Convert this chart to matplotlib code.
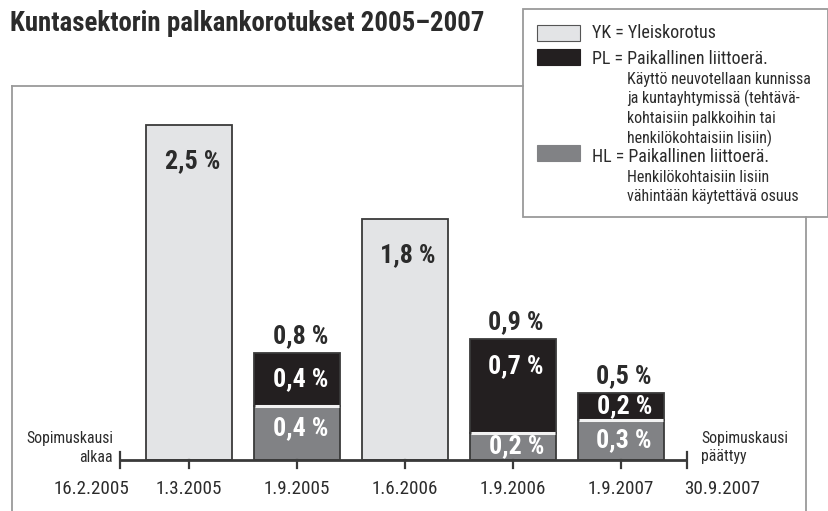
import matplotlib
matplotlib.use('Agg')
import matplotlib.pyplot as plt
from matplotlib import font_manager
from matplotlib.patches import Rectangle

# data
dates = ['16.2.2005', '1.3.2005', '1.9.2005', '1.6.2006', '1.9.2006', '1.9.2007', '30.9.2007']
yk = [2.5, 0, 1.8, 0, 0]
pl = [0, 0.4, 0, 0.7, 0.2]
hl = [0, 0.4, 0, 0.2, 0.3]
totals = [2.5, 0.8, 1.8, 0.9, 0.5]
title = 'Kuntasektorin palkankorotukset 2005–2007'
legend_main = ['YK = Yleiskorotus', 'PL = Paikallinen liittoerä.', 'HL = Paikallinen liittoerä.']
legend_sub = [[],
              ['Käyttö neuvotellaan kunnissa', 'ja kuntayhtymissä (tehtävä-',
               'kohtaisiin palkkoihin tai', 'henkilökohtaisiin lisiin)'],
              ['Henkilökohtaisiin lisiin', 'vähintään käytettävä osuus']]

names = set(f.name for f in font_manager.fontManager.ttflist)
main_font = 'Roboto'
for cand in ['Liberation Sans Narrow', 'Roboto Condensed', 'DejaVu Sans Condensed', 'Open Sans Condensed']:
    if cand in names:
        main_font = cand
        break
plt.rcParams['font.family'] = [main_font, 'DejaVu Sans']

c_yk = '#e3e4e6'
c_pl = '#231f20'
c_hl = '#818285'
c_txt = '#2b2b2b'
c_edge = '#3a3a3a'

W, H = 829, 511
fig = plt.figure(figsize=(W / 100, H / 100), dpi=100)
ax = fig.add_axes([0, 0, 1, 1])
ax.set_xlim(-1.75, 5.926)
ax.set_ylim(-0.3806, 3.433)
ax.axis('off')

# sizes were worked out for a narrow font; scale them to the font we have
r = fig.canvas.get_renderer()
t = fig.text(0, 0, title, fontsize=20, fontweight='bold')
kb = 473 / t.get_window_extent(r).width
t.remove()
t = fig.text(0, 0, legend_sub[1][0], fontsize=12.5)
kr = 186 / t.get_window_extent(r).width
t.remove()
kb = min(kb, 1.0)
kr = min(kr, 1.0)


def px(x, y):
    return x / W, 1 - y / H


def fmt(v):
    return f'{v:.1f} %'.replace('.', ',')


x = list(range(len(yk)))
bw = 0.8
vs = 19.5 * kb
for i in x:
    if yk[i] > 0:
        ax.bar(i, yk[i], width=bw, color=c_yk, edgecolor=c_edge, linewidth=1.3, zorder=2)
        ax.text(i + 0.03, yk[i] - 0.27, fmt(yk[i]),
                ha='center', va='center', fontsize=vs, fontweight='bold', color=c_txt, zorder=4)
    if hl[i] > 0:
        ax.bar(i, hl[i], width=bw, color=c_hl, edgecolor=c_edge, linewidth=1.3, zorder=2)
        ax.bar(i, pl[i], width=bw, bottom=hl[i], color=c_pl, edgecolor=c_edge, linewidth=1.3, zorder=2)
        ax.hlines(hl[i], i - bw / 2 + 0.012, i + bw / 2 - 0.012, color='#f2f2f2', lw=2.2, zorder=3)
        top = hl[i] + pl[i]
        ax.text(i + 0.03, max(hl[i] / 2, hl[i] - 0.16), fmt(hl[i]),
                ha='center', va='center', fontsize=vs, fontweight='bold', color='white', zorder=4)
        ax.text(i + 0.03, max(hl[i] + pl[i] / 2, top - 0.2), fmt(pl[i]),
                ha='center', va='center', fontsize=vs, fontweight='bold', color='white', zorder=4)
        ax.text(i + 0.03, totals[i] + 0.125, fmt(totals[i]),
                ha='center', va='center', fontsize=vs, fontweight='bold', color=c_txt, zorder=4)

# axis line and ticks
x0, x1 = -0.639, 4.611
ax.plot([x0, x1], [0, 0], color=c_edge, lw=2, zorder=5, solid_capstyle='butt')
for xe in (x0, x1):
    ax.plot([xe, xe], [0.06, -0.06], color=c_edge, lw=1.6, zorder=5)
for i in x:
    ax.plot([i, i], [0, -0.06], color=c_edge, lw=1.6, zorder=5)

tick_x = [-0.9] + x + [4.935]
for xt, lab in zip(tick_x, dates):
    ax.text(xt, -0.22, lab, ha='center', va='center', fontsize=14.8 * kr, color=c_txt)

ss = 12.3 * kr
ax.text(*px(113, 438), 'Sopimuskausi', transform=fig.transFigure, ha='right', va='center', fontsize=ss, color=c_txt)
ax.text(*px(113, 457), 'alkaa', transform=fig.transFigure, ha='right', va='center', fontsize=ss, color=c_txt)
ax.text(*px(701, 438), 'Sopimuskausi', transform=fig.transFigure, ha='left', va='center', fontsize=ss, color=c_txt)
ax.text(*px(701, 456), 'päättyy', transform=fig.transFigure, ha='left', va='center', fontsize=ss, color=c_txt)

# outer frame
fc = '#9a9a9a'
fig.add_artist(plt.Line2D([12 / W, 12 / W], [0, 1 - 86 / H], color=fc, lw=1.3))
fig.add_artist(plt.Line2D([12 / W, 523 / W], [1 - 86 / H, 1 - 86 / H], color=fc, lw=1.3))
fig.add_artist(plt.Line2D([806 / W, 806 / W], [0, 1 - 217 / H], color=fc, lw=1.3))

# title
fig.text(*px(10, 23), title, ha='left', va='center',
         fontsize=20 * kb, fontweight='bold', color=c_txt)

# legend box
lx0, ly0, lx1, ly1 = 523, 9, 828, 217
fig.add_artist(Rectangle((lx0 / W, 1 - ly1 / H), (lx1 - lx0) / W, (ly1 - ly0) / H,
                         transform=fig.transFigure, facecolor='white', edgecolor=fc, lw=1.3))
sw_y = [33, 57, 153]
main_y = [33, 59, 157]
sub_y0 = [0, 79, 177]
colors = [c_yk, c_pl, c_hl]
for k in range(3):
    fig.add_artist(Rectangle((537 / W, 1 - (sw_y[k] + 8) / H), 43 / W, 16 / H,
                             transform=fig.transFigure, facecolor=colors[k],
                             edgecolor='#555555' if k == 0 else colors[k], lw=0.8))
    fig.text(*px(592, main_y[k]), legend_main[k], ha='left', va='center', fontsize=14 * kr, color=c_txt)
    for j, s in enumerate(legend_sub[k]):
        fig.text(*px(627, sub_y0[k] + j * 19.8), s, ha='left', va='center', fontsize=12.5 * kr, color=c_txt)

fig.savefig('out.png', dpi=100)
